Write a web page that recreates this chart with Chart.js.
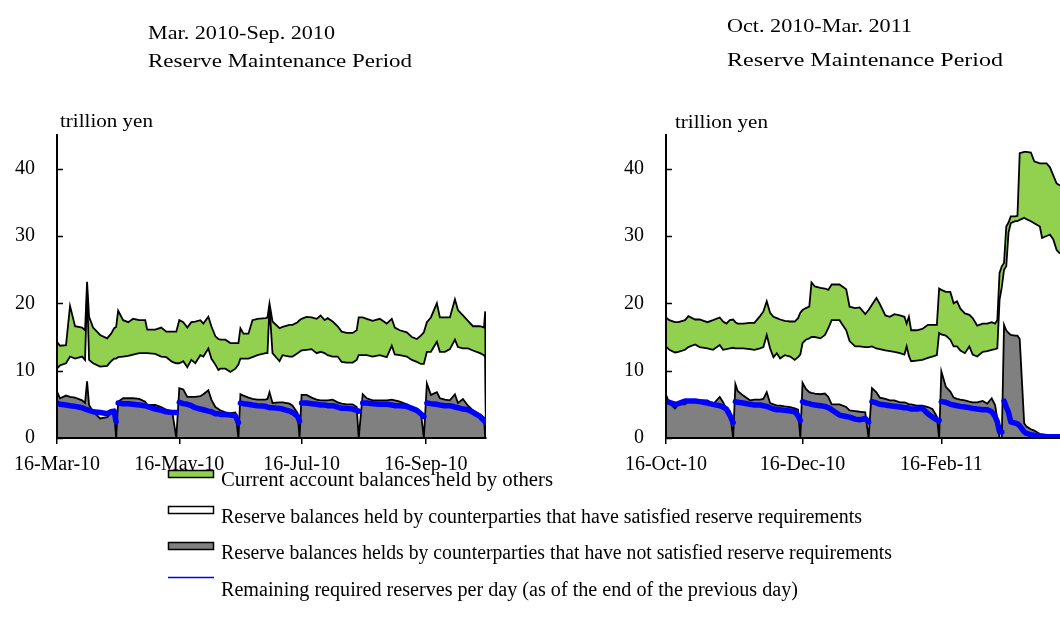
<!DOCTYPE html>
<html>
<head>
<meta charset="utf-8">
<script src="https://cdn.jsdelivr.net/npm/chart.js@4.4.1/dist/chart.umd.min.js"></script>
<style>
html,body{margin:0;padding:0;width:1060px;height:627px;overflow:hidden;background:#fff;}
canvas{position:absolute;top:0;}
#cl{left:-20px;width:520px;height:520px;}
#cr{left:590px;width:470px;height:520px;}
#ov{position:absolute;left:0;top:0;}
#ov text{font-family:'Liberation Serif','Times New Roman',serif;fill:#000;}
</style>
</head>
<body>
<canvas id="cl" width="520" height="520"></canvas>
<canvas id="cr" width="470" height="520"></canvas>
<svg id="ov" width="1060" height="627" xmlns="http://www.w3.org/2000/svg">
  <text x="148" y="39" font-size="19" textLength="187" lengthAdjust="spacingAndGlyphs">Mar. 2010-Sep. 2010</text>
  <text x="148" y="67" font-size="19" textLength="264" lengthAdjust="spacingAndGlyphs">Reserve Maintenance Period</text>
  <text x="727" y="32" font-size="19" textLength="185" lengthAdjust="spacingAndGlyphs">Oct. 2010-Mar. 2011</text>
  <text x="727" y="66" font-size="19" textLength="276" lengthAdjust="spacingAndGlyphs">Reserve Maintenance Period</text>
  <text x="60" y="127" font-size="19" textLength="93" lengthAdjust="spacingAndGlyphs">trillion yen</text>
  <text x="675" y="128" font-size="19" textLength="93" lengthAdjust="spacingAndGlyphs">trillion yen</text>

  <rect x="168.5" y="470.5" width="45" height="7" fill="#92D050" stroke="#000" stroke-width="1.5"/>
  <rect x="168.5" y="506.5" width="45" height="7" fill="#FFFFFF" stroke="#000" stroke-width="1.5"/>
  <rect x="168.5" y="542.5" width="45" height="7" fill="#808080" stroke="#000" stroke-width="1.5"/>
  <line x1="168" y1="577.5" x2="214" y2="577.5" stroke="#0000FF" stroke-width="1.5"/>
  <text x="221" y="486" font-size="20" textLength="332" lengthAdjust="spacingAndGlyphs">Current account balances held by others</text>
  <text x="221" y="523" font-size="20" textLength="641" lengthAdjust="spacingAndGlyphs">Reserve balances held by counterparties that have satisfied reserve requirements</text>
  <text x="221" y="559" font-size="20" textLength="671" lengthAdjust="spacingAndGlyphs">Reserve balances helds by counterparties that have not satisfied reserve requirements</text>
  <text x="221" y="596" font-size="20" textLength="577" lengthAdjust="spacingAndGlyphs">Remaining required reserves per day (as of the end of the previous day)</text>
</svg>
<script>
// ---------- tick values / labels ----------
const yTickValues = [0, 10, 20, 30, 40];
const leftTickDay = [0, 61, 122, 184];
const leftTickLabel = ['16-Mar-10', '16-May-10', '16-Jul-10', '16-Sep-10'];
const rightTickDay = [0, 61, 123];
const rightTickLabel = ['16-Oct-10', '16-Dec-10', '16-Feb-11'];

// ---------- left panel: Mar. 2010 - Sep. 2010 (days since 16-Mar-10) ----------
const leftDay = [
  0,1.5,4.5,6.5,9,12.5,14,15,16,18,
  21.5,25,27,28.5,29.5,30.5,33,35.5,38,41,
  44,45,49,52,54.5,57.5,59.5,61,63,65,
  67,69,71.5,73,75.5,77,79,80.5,81.5,84,
  86.5,89,90.5,91.5,93,95.5,97.5,100,104,105,
  106,107.5,111,112.5,116,117.5,120,121,122,124.5,
  127,129.5,131.5,133.5,135,137.5,140,142,144.5,147.5,
  149.5,150.5,152.5,154.5,157.5,161,164.5,167,168.5,171,
  174.5,177,179.5,181.5,183,184.5,186.5,189.5,191,193.5,
  196,198.5,200,202.5,205,207.5,211,213,213.6,214];
// total current account balances (top of green band)
const leftTotal = [
  14.3,13.7,13.8,19.6,16.6,16.4,16.0,23.2,18.0,16.4,
  15.3,14.8,15.5,16.3,16.5,18.9,17.5,17.2,17.7,17.5,
  17.5,16.1,16.1,16.4,15.8,15.8,15.8,17.5,17.2,16.4,
  17.2,17.3,17.5,17.0,18.0,16.6,15.1,14.7,14.6,14.6,
  14.1,14.1,14.1,16.3,15.5,15.5,17.5,17.7,17.8,17.9,
  20.0,17.3,16.3,16.5,16.8,16.8,17.2,17.5,17.7,18.0,
  17.9,17.7,18.2,17.5,17.8,17.3,16.6,15.8,15.6,15.6,
  16.0,17.9,17.9,17.7,17.4,17.7,17.0,17.7,16.4,16.0,
  15.7,15.0,14.7,15.2,15.7,17.2,17.9,20.0,17.9,17.9,
  17.9,20.6,19.0,18.2,17.4,16.6,16.6,16.4,18.8,0];
// reserve balances, all counterparties (top of white band)
const leftReserves = [
  10.3,10.8,11.1,12.1,11.8,12.1,11.6,22.0,11.6,11.1,
  10.6,10.7,11.4,11.8,11.8,12.0,12.1,12.2,12.4,12.6,
  12.6,12.6,12.5,12.1,12.0,11.3,11.1,11.1,11.4,10.5,
  11.6,11.1,12.3,12.1,13.3,11.8,10.9,10.1,10.3,10.3,
  9.8,10.3,10.9,11.8,11.8,11.8,12.0,12.3,12.6,12.6,
  19.5,12.6,11.4,12.3,12.1,12.1,12.6,12.8,13.0,13.1,
  13.2,12.6,12.8,12.6,12.3,12.1,12.1,11.3,11.2,11.2,
  11.6,12.3,12.3,12.3,12.1,12.3,12.0,13.7,12.4,12.3,
  12.1,11.6,11.3,11.0,11.0,12.8,12.8,14.3,12.8,12.8,
  13.2,14.6,13.5,13.3,13.3,13.0,12.6,12.3,12.0,0];
// reserve balances of counterparties that have not satisfied requirements
const leftNotSatisfied = [
  6.9,5.9,6.3,6.1,6.0,5.6,5.2,8.4,4.9,3.9,
  2.9,3.1,3.8,3.9,0,5.4,5.9,5.9,5.9,5.8,
  5.4,4.9,4.9,4.6,4.2,3.9,0,7.4,7.2,6.1,
  6.1,6.1,6.2,6.5,7.1,5.7,4.6,4.3,4.1,3.8,
  3.7,3.8,0,6.5,6.3,6.0,5.8,5.7,5.7,5.8,
  6.8,5.2,5.3,5.3,5.1,4.8,3.7,0,6.4,6.4,
  6.0,5.7,5.6,5.6,5.6,5.7,5.3,5.1,5.0,5.0,
  4.6,0,6.5,5.9,5.6,5.6,5.6,5.7,5.6,5.4,
  5.0,4.6,4.3,3.8,0,8.1,6.4,6.8,5.9,5.7,
  5.6,6.5,5.2,5.8,4.8,4.1,3.5,3.0,0,0];
// remaining required reserves per day
const leftRequired = [
  5.2,5.0,4.9,4.8,4.7,4.5,4.3,4.2,4.1,3.9,
  3.8,3.6,3.9,4.0,2.4,5.2,5.1,5.1,5.0,4.9,
  4.8,4.7,4.3,4.1,3.9,3.8,3.8,5.3,5.1,5.0,
  4.8,4.5,4.3,4.2,4.0,3.9,3.6,3.6,3.5,3.5,
  3.4,3.3,2.3,5.2,5.1,5.0,4.9,4.8,4.7,4.6,
  4.5,4.5,4.4,4.3,4.0,3.8,3.2,2.5,5.2,5.2,
  5.1,5.0,4.9,4.9,4.8,4.8,4.6,4.4,4.4,4.3,
  4.1,4.0,5.2,5.2,5.1,5.0,5.0,4.9,4.8,4.8,
  4.7,4.4,4.1,3.6,3.2,5.2,5.1,5.0,4.9,4.8,
  4.8,4.6,4.5,4.3,4.2,3.8,3.2,2.6,2.4,null];

// ---------- right panel: Oct. 2010 - Mar. 2011 (days since 16-Oct-10) ----------
const rightDay = [
  0,1.5,4,5.5,8.5,10,13,15,18.5,21,
  24,25.5,27,28.5,30,31,32,34.5,37.5,39.5,
  42,43.5,45,46.5,48,49.5,51,53,55.5,57.5,
  59,60,61,62.5,64,65,66.5,69,71,72.5,
  74,77.5,80.5,82,84.5,86.5,89,90.5,92,94,
  95.5,98,100,102,104.5,106.5,107.5,108.5,109.5,112,
  114.5,117,119,121,122,123,125,127,128.5,130,
  131.5,133.5,135.5,137,139,141.5,143.5,145.5,147,148,
  149,150,151,152,153,154,156,157,158,160,
  161,163,164.5,167,168,170,171.5,173,174.5,176];
const rightTotal = [
  17.9,17.5,17.2,17.2,17.5,18.1,17.6,17.6,17.2,17.5,
  17.9,17.3,17.0,17.5,17.6,17.2,17.0,17.0,17.1,17.1,
  18.1,18.8,20.3,18.6,18.0,17.8,17.6,17.4,17.3,17.3,
  17.8,18.6,19.0,19.3,19.5,23.1,22.5,22.3,22.2,22.0,
  22.8,22.8,22.1,19.5,19.3,19.4,18.4,19.0,19.8,20.8,
  19.9,18.2,18.0,18.4,18.2,18.0,17.0,18.0,16.0,16.0,
  16.2,16.8,16.8,16.8,22.2,22.0,21.7,21.7,20.0,20.3,
  19.2,18.5,18.3,17.8,16.7,17.0,17.0,17.2,17.0,17.5,
  24.5,25.5,26.0,31.4,32.0,32.9,32.9,33.0,42.3,42.5,
  42.5,42.4,41.1,40.8,40.8,40.8,40.2,39.0,37.8,37.5];
const rightReserves = [
  13.6,13.1,12.7,12.8,13.1,13.5,13.9,13.5,13.3,13.1,
  13.8,13.1,13.2,13.3,13.4,13.3,13.3,13.3,13.2,13.1,
  13.3,13.5,15.3,13.3,12.0,12.6,11.8,12.3,12.1,11.6,
  12.0,12.4,14.1,14.6,14.8,15.0,15.0,14.8,15.3,16.3,
  17.5,17.5,16.0,14.4,13.6,13.6,13.5,13.5,13.6,13.3,
  13.2,13.0,12.9,12.8,12.6,12.4,13.6,12.2,11.4,11.5,
  11.6,11.9,12.1,12.3,15.6,15.4,15.2,14.6,13.6,13.6,
  13.0,12.6,13.6,12.4,12.1,12.8,12.9,13.1,13.2,13.3,
  20.5,22.4,25.0,25.5,30.5,31.9,32.2,32.2,32.4,32.7,
  32.5,32.2,31.9,31.4,29.7,30.0,30.2,29.5,27.9,27.4];
const rightNotSatisfied = [
  6.4,5.2,4.4,5.0,5.0,5.5,5.5,5.6,5.6,5.0,
  6.1,5.3,4.3,4.0,0,8.0,7.0,6.3,5.6,5.7,
  5.7,5.8,6.8,5.2,5.0,4.8,4.8,4.7,4.6,4.4,
  4.2,0,8.2,7.3,6.8,6.7,6.6,6.5,6.6,6.1,
  5.0,5.0,4.6,4.1,4.0,3.9,3.8,0,7.4,6.8,
  6.0,5.8,5.6,5.6,5.3,5.3,5.2,5.0,5.0,4.8,
  4.8,4.6,4.3,3.2,0,9.9,7.6,6.9,6.0,5.8,
  5.7,5.6,5.4,5.3,5.3,5.5,5.1,5.9,4.9,2.8,
  0,0,16.8,16.0,15.6,15.3,15.2,15.2,14.7,2.2,
  1.7,1.3,1.1,0.6,0.2,0,0,0,0,0];
const rightRequired = [
  5.4,5.3,5.0,5.1,5.5,5.5,5.5,5.4,5.2,5.0,
  4.8,4.6,4.3,3.4,2.3,5.4,5.3,5.2,5.0,4.9,
  4.9,4.8,4.7,4.5,4.3,4.2,4.2,4.1,4.0,3.9,
  3.3,2.6,5.4,5.2,5.1,5.0,4.9,4.8,4.7,4.5,
  4.2,3.4,3.2,3.1,2.8,2.7,2.9,2.4,5.4,5.2,
  5.0,4.9,4.8,4.7,4.6,4.5,4.5,4.4,4.3,4.3,
  4.4,3.6,3.1,2.7,2.6,5.4,5.3,5.0,4.9,4.8,
  4.7,4.6,4.5,4.4,4.3,4.2,4.2,3.9,3.2,2.4,
  0.9,0.9,5.5,4.6,3.8,2.4,2.2,2.1,1.8,0.9,
  0.7,0.5,0.4,0.3,0.3,0.2,0.2,0.2,0.2,0.2];

// ---------- styling ----------
const FONT = "'Liberation Serif','Times New Roman',serif";
const GREEN = '#92D050', GRAY = '#808080', BLUE = '#0000FF';

const innerYTicks = {
  id: 'innerYTicks',
  afterDatasetsDraw(chart) {
    const y = chart.scales.y, ctx = chart.ctx;
    ctx.save();
    ctx.strokeStyle = '#000';
    ctx.lineWidth = 1.5;
    y.ticks.forEach(t => {
      const p = Math.round(y.getPixelForValue(t.value)) + 0.5;
      ctx.beginPath();
      ctx.moveTo(y.right, p);
      ctx.lineTo(y.right + 6, p);
      ctx.stroke();
    });
    ctx.restore();
  }
};

function pts(days, vals) { return days.map((d, i) => ({x: d, y: vals[i]})); }

function makeChart(id, o) {
  new Chart(document.getElementById(id), {
    type: 'line',
    data: {
      datasets: [
        {
          label: 'Remaining required reserves per day (as of the end of the previous day)',
          data: pts(o.day, o.required),
          borderColor: BLUE, borderWidth: 5.5, pointRadius: 0, tension: 0, fill: false,
          borderCapStyle: 'round', borderJoinStyle: 'round',
          segment: { borderColor: c => (c.p1.parsed.y - c.p0.parsed.y > 1 ? 'rgba(0,0,0,0)' : undefined) }
        },
        {
          label: 'Reserve balances helds by counterparties that have not satisfied reserve requirements',
          data: pts(o.day, o.notSatisfied),
          borderColor: '#000', borderWidth: 1.8, pointRadius: 0, tension: 0,
          backgroundColor: GRAY, fill: 'origin', borderJoinStyle: 'miter'
        },
        {
          label: 'Reserve balances held by counterparties that have satisfied reserve requirements',
          data: pts(o.day, o.reserves),
          borderColor: '#000', borderWidth: 1.8, pointRadius: 0, tension: 0,
          backgroundColor: '#FFFFFF', fill: false, borderJoinStyle: 'miter'
        },
        {
          label: 'Current account balances held by others',
          data: pts(o.day, o.total),
          borderColor: '#000', borderWidth: 1.8, pointRadius: 0, tension: 0,
          backgroundColor: GREEN, fill: '-1', borderJoinStyle: 'miter'
        }
      ]
    },
    options: {
      responsive: false,
      animation: false,
      events: [],
      layout: { padding: { top: 135, right: o.padRight, bottom: 32, left: 0 } },
      plugins: { legend: { display: false }, tooltip: { enabled: false } },
      scales: {
        x: {
          type: 'linear', min: 0, max: o.xMax,
          afterBuildTicks: s => { s.ticks = o.tickDay.map(v => ({value: v})); },
          afterFit: s => { s.height = 50; },
          ticks: {
            autoSkip: false, maxRotation: 0, padding: 9, color: '#000',
            font: { family: FONT, size: 20 },
            callback: (v, i) => o.tickLabel[i]
          },
          grid: { display: true, drawOnChartArea: false, drawTicks: true, tickLength: 6,
                  color: '#000', tickColor: '#000', lineWidth: 1.5 },
          border: { display: true, color: '#000', width: 2, z: 1 }
        },
        y: {
          min: 0, max: 45,
          afterBuildTicks: s => { s.ticks = yTickValues.map(v => ({value: v})); },
          afterFit: s => { s.width = o.yWidth; },
          ticks: { padding: 22, color: '#000', font: { family: FONT, size: 20 } },
          grid: { display: true, drawOnChartArea: false, drawTicks: false },
          border: { display: true, color: '#000', width: 2, z: 1 }
        }
      }
    },
    plugins: [innerYTicks]
  });
}

makeChart('cl', {
  day: leftDay, total: leftTotal, reserves: leftReserves,
  notSatisfied: leftNotSatisfied, required: leftRequired,
  tickDay: leftTickDay, tickLabel: leftTickLabel,
  xMax: 214, yWidth: 77, padRight: 14
});
makeChart('cr', {
  day: rightDay, total: rightTotal, reserves: rightReserves,
  notSatisfied: rightNotSatisfied, required: rightRequired,
  tickDay: rightTickDay, tickLabel: rightTickLabel,
  xMax: 176, yWidth: 76, padRight: 0
});
</script>
</body>
</html>
